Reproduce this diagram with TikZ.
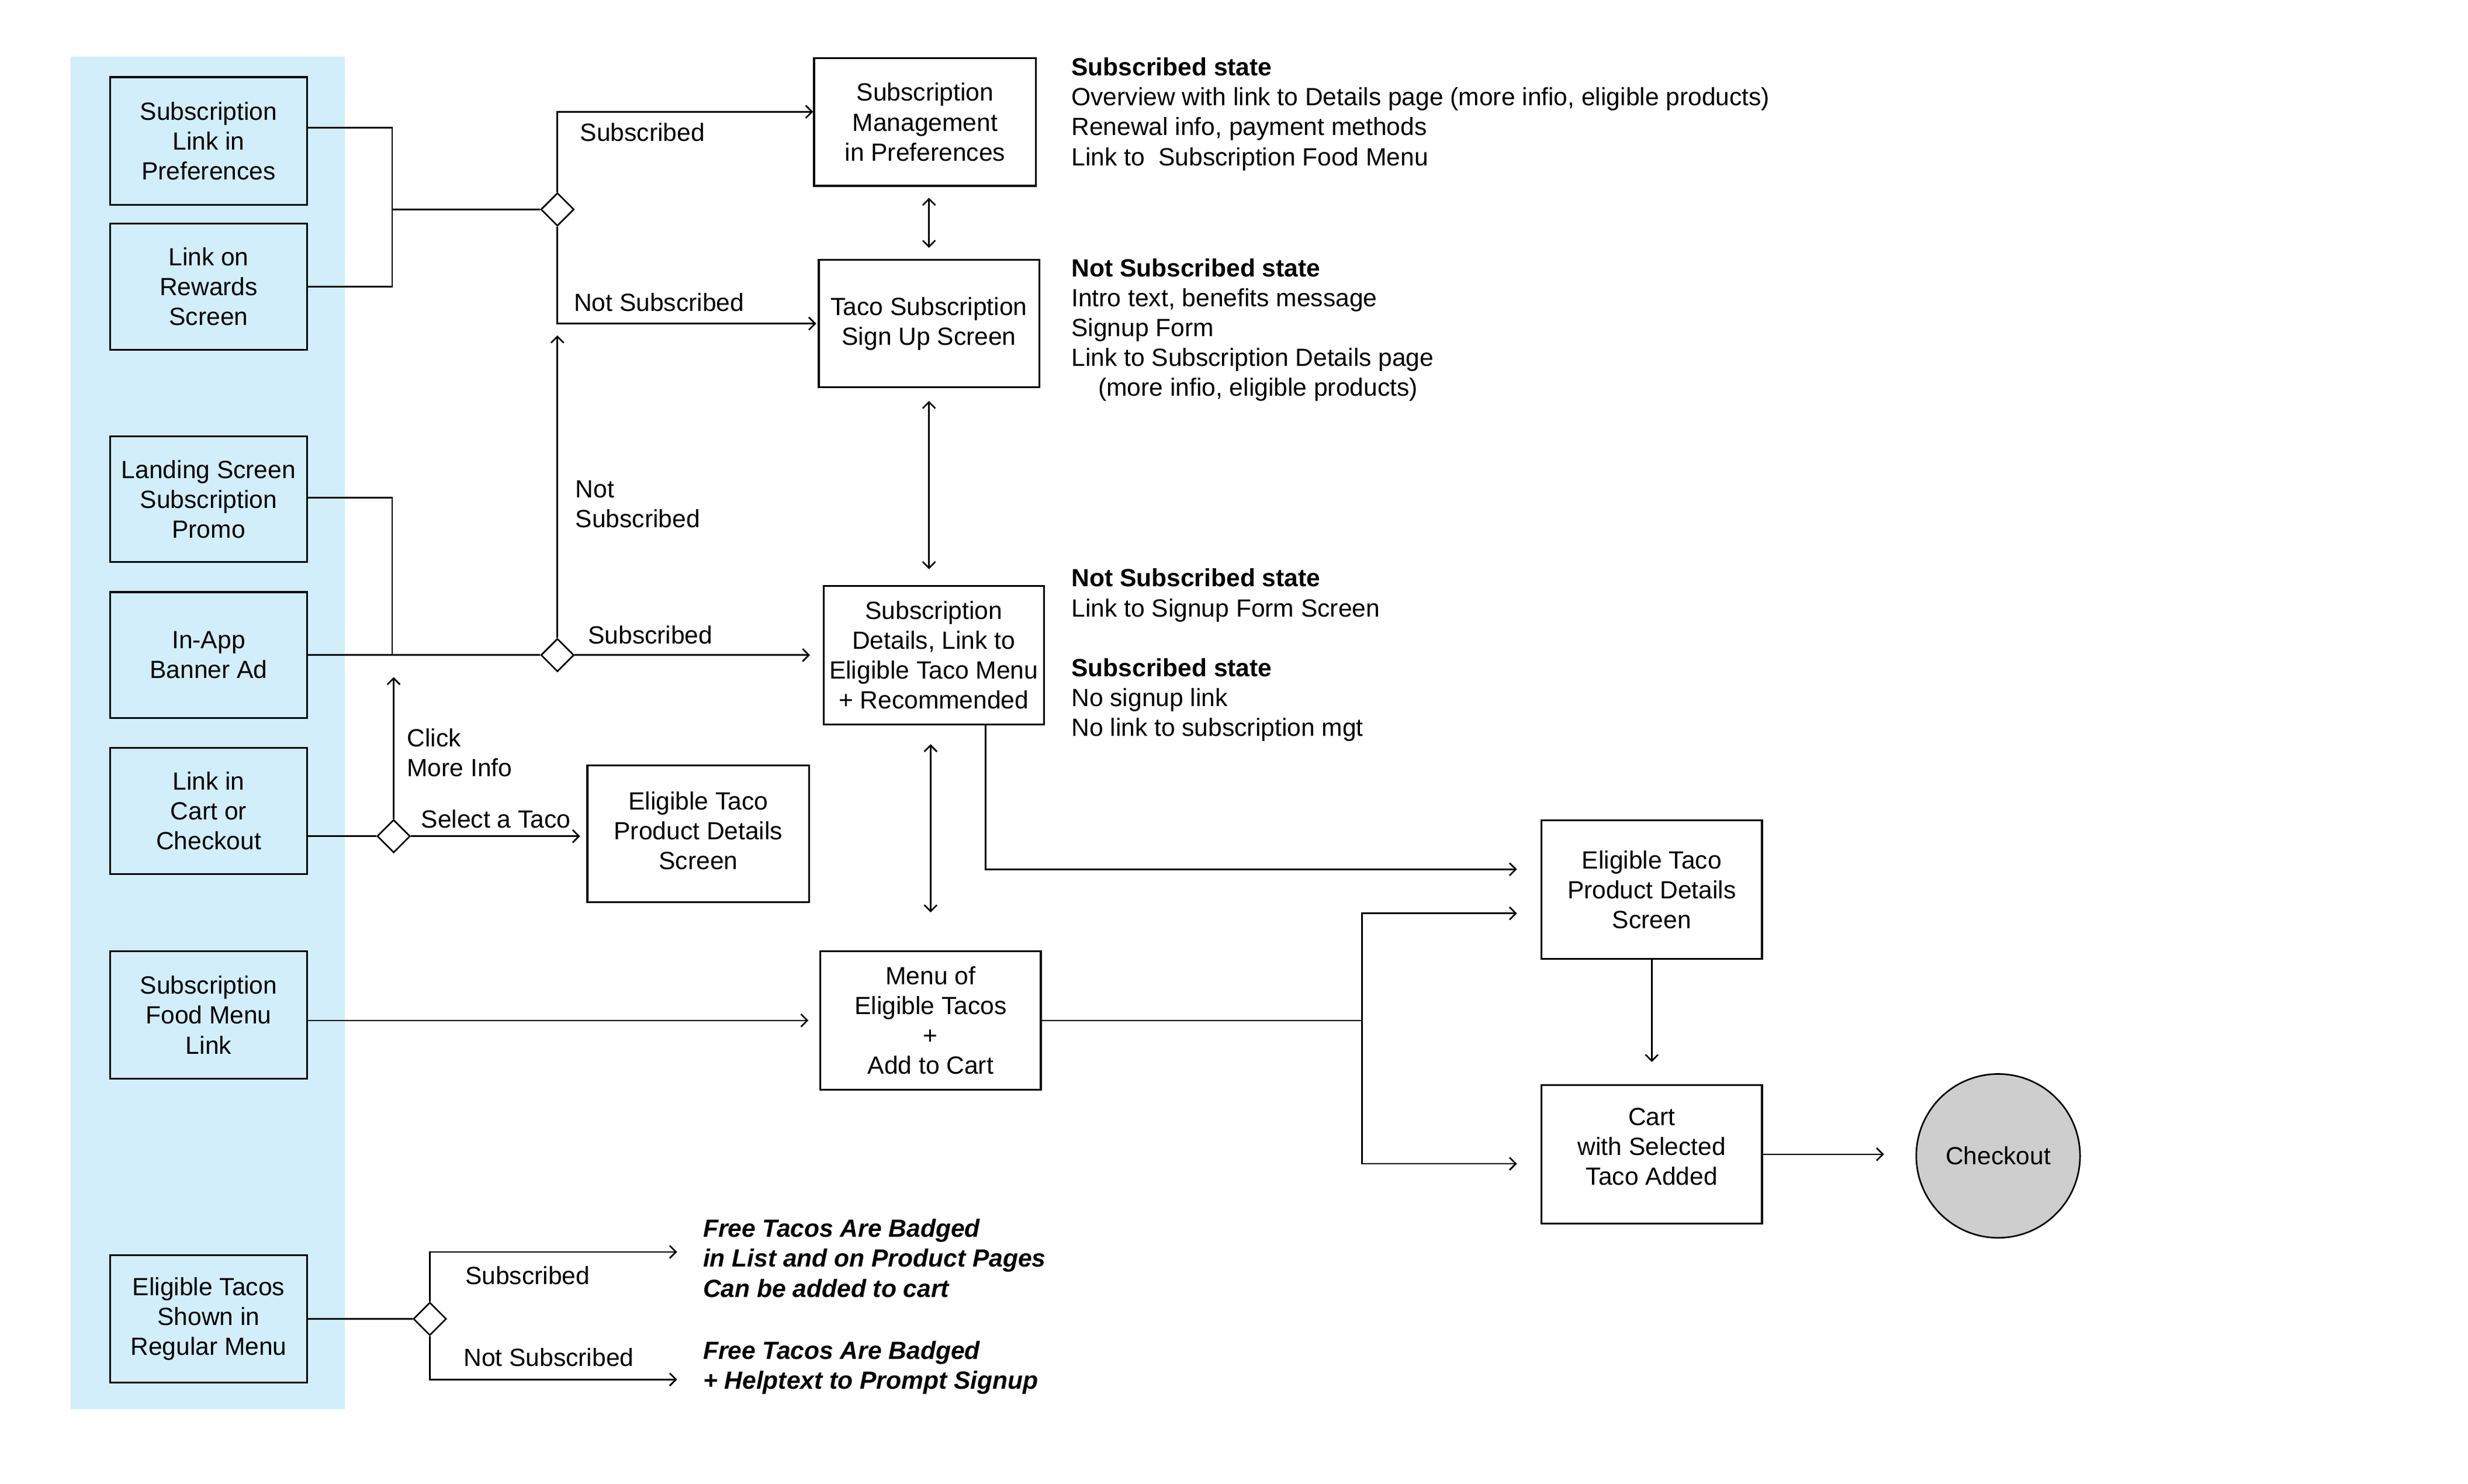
\documentclass[tikz,border=0pt]{standalone}
\usepackage{fontspec}
\setmainfont{Liberation Sans}
\usetikzlibrary{arrows.meta,shapes.geometric,calc}
\definecolor{bandblue}{RGB}{209,238,250}
\definecolor{circgray}{RGB}{206,206,206}
\begin{document}
\begin{tikzpicture}[x=1pt,y=-1pt, line width=1pt, font=\fontsize{15.8}{19}\selectfont,
  box/.style={draw, line width=1.2pt, minimum width=140pt, minimum height=88pt, inner sep=1pt, align=center},
  lbox/.style={box, minimum width=125pt, minimum height=80pt},
  dec/.style={draw, diamond, shape aspect=1, minimum width=21pt, minimum height=21pt, inner sep=0pt, fill=white},
  lab/.style={anchor=west, inner sep=0pt, align=left},
  arr/.style={-{Straight Barb[length=4pt,width=8pt]}},
  darr/.style={{Straight Barb[length=4pt,width=8pt]}-{Straight Barb[length=4pt,width=8pt]}}]
\useasboundingbox (0,0) rectangle (1567.4,942.2);
\fill[bandblue] (45,36) rectangle (219,895);
% left boxes
\node[lbox, minimum height=81pt] (b1) at (132.5,89.5) {Subscription\\Link in\\Preferences};
\node[lbox] (b2) at (132.5,182) {Link on\\Rewards\\Screen};
\node[lbox] (b3) at (132.5,317) {Landing Screen\\Subscription\\Promo};
\node[lbox] (b4) at (132.5,416) {In-App\\Banner Ad};
\node[lbox] (b5) at (132.5,515) {Link in\\Cart or\\Checkout};
\node[lbox, minimum height=81pt] (b6) at (132.5,644.5) {Subscription\\Food Menu\\Link};
\node[lbox, minimum height=81pt] (b7) at (132.5,837.5) {Eligible Tacos\\Shown in\\Regular Menu};
% middle boxes
\node[box, minimum width=141pt, minimum height=81pt] (sm) at (587.5,77.5) {Subscription\\Management\\in Preferences};
\node[box, minimum height=81pt] (ts) at (590,205.5) {Taco Subscription\\Sign Up Screen};
\node[box] (sd) at (593,416) {Subscription\\Details, Link to\\Eligible Taco Menu\\+ Recommended};
\node[box, minimum width=141pt, minimum height=87pt] (ep1) at (443.5,529.5) {Eligible Taco\\Product Details\\Screen\\[-15pt]};
\node[box] (mn) at (591,648) {Menu of\\Eligible Tacos\\+\\Add to Cart};
\node[box] (ep2) at (1049,565) {Eligible Taco\\Product Details\\Screen};
\node[box] (ct) at (1049,733) {Cart\\with Selected\\Taco Added\\[-9pt]};
\node[draw, circle, minimum size=104pt, fill=circgray, inner sep=0pt] (co) at (1269,734) {Checkout};
% decisions
\node[dec] (d1) at (354,133) {};
\node[dec] (d2) at (354,416) {};
\node[dec] (d3) at (250,531) {};
\node[dec] (d4) at (273,837.5) {};
% helper coordinates
\coordinate (k1) at (249,81);
\coordinate (k2) at (249,182);
\coordinate (k3) at (249,316);
\coordinate (k4) at (249,416);
\coordinate (up1) at (354,213);
\coordinate (up2) at (250,430);
\coordinate (k5) at (865,648);
\coordinate (fr1) at (430,795);
\coordinate (fr2) at (430,876);
% connectors
\draw (b1.east |- k1) -- (k1) -- (k2) -- (b2.east);
\draw (k1 |- d1) -- (d1.west);
\draw[arr] (d1.north) |- ($(sm.west)+(0,-6.5)$);
\draw[arr, shorten >=1pt] (d1.south) |- (ts.west);
\draw (b3.east |- k3) -- (k3) -- (k4);
\draw (b4.east) -- (d2.west);
\draw[arr] (d2.north) -- (up1);
\draw[arr, shorten >=8pt] (d2.east) -- (sd.west);
\draw ($(b5.east)+(0,16)$) -- (d3.west);
\draw[arr] (d3.north) -- (up2);
\draw[arr, shorten >=4pt] (d3.east) -- (d3 -| ep1.west);
\draw[arr, shorten >=7pt] (mn.west -| b6.east) -- (mn.west);
\draw (b7.east) -- (d4.west);
\draw[arr] (d4.north) |- (fr1);
\draw[arr] (d4.south) |- (fr2);
\draw[darr] ($(sm.south -| ts.north)+(0,7)$) -- ($(ts.north)+(0,-7)$);
\draw[darr] ($(ts.south)+(0,8)$) -- ($(sd.north -| ts.south)+(0,-10)$);
\draw[darr] ($(sd.south -| mn.north)+(0,12)$) -- ($(mn.north)+(0,-24)$);
\draw[arr, shorten >=15pt] ($(sd.south)+(33,0)$) |- ($(ep2.west)+(0,-13)$);
\draw (mn.east) -- (k5);
\draw[arr, shorten >=15pt] (k5) |- ($(ep2.west)+(0,15)$);
\draw[arr, shorten >=15pt] (k5) |- ($(ct.west)+(0,6)$);
\draw[arr, shorten >=14pt] (ep2.south) -- (ct.north);
\draw[arr, shorten >=20pt] (ct.east) -- (ct.east -| co.west);
% labels
\node[lab] (l1) at (368,84) {Subscribed};
\node[lab] (l2) at (364,192) {Not Subscribed};
\node[lab] (l3) at (365,320) {Not\\Subscribed};
\node[lab] (l4) at (373,403) {Subscribed};
\node[lab] (l5) at (258,478) {Click\\More Info};
\node[lab] (l6) at (267,520) {Select a Taco};
\node[lab] (l7) at (295,810) {Subscribed};
\node[lab] (l8) at (294,862) {Not Subscribed};
% text blocks
\node[lab] (t1) at (680,72.5) {\textbf{Subscribed state}\\Overview with link to Details page (more infio, eligible products)\\Renewal info, payment methods\\Link to~ Subscription Food Menu};
\node[lab] (t2) at (680,209.5) {\textbf{Not Subscribed state}\\Intro text, benefits message\\Signup Form\\Link to Subscription Details page\\\hspace*{17pt}(more infio, eligible products)};
\node[lab] (t3) at (680,416) {\textbf{Not Subscribed state}\\Link to Signup Form Screen\\[19pt]\textbf{Subscribed state}\\No signup link\\No link to subscription mgt};
\node[lab, font=\fontsize{15.8}{19}\selectfont\bfseries\itshape] (t4) at (446,799) {Free Tacos Are Badged\\in List and on Product Pages\\Can be added to cart};
\node[lab, font=\fontsize{15.8}{19}\selectfont\bfseries\itshape] (t5) at (446,868.5) {Free Tacos Are Badged\\+ Helptext to Prompt Signup};
\end{tikzpicture}
\end{document}
